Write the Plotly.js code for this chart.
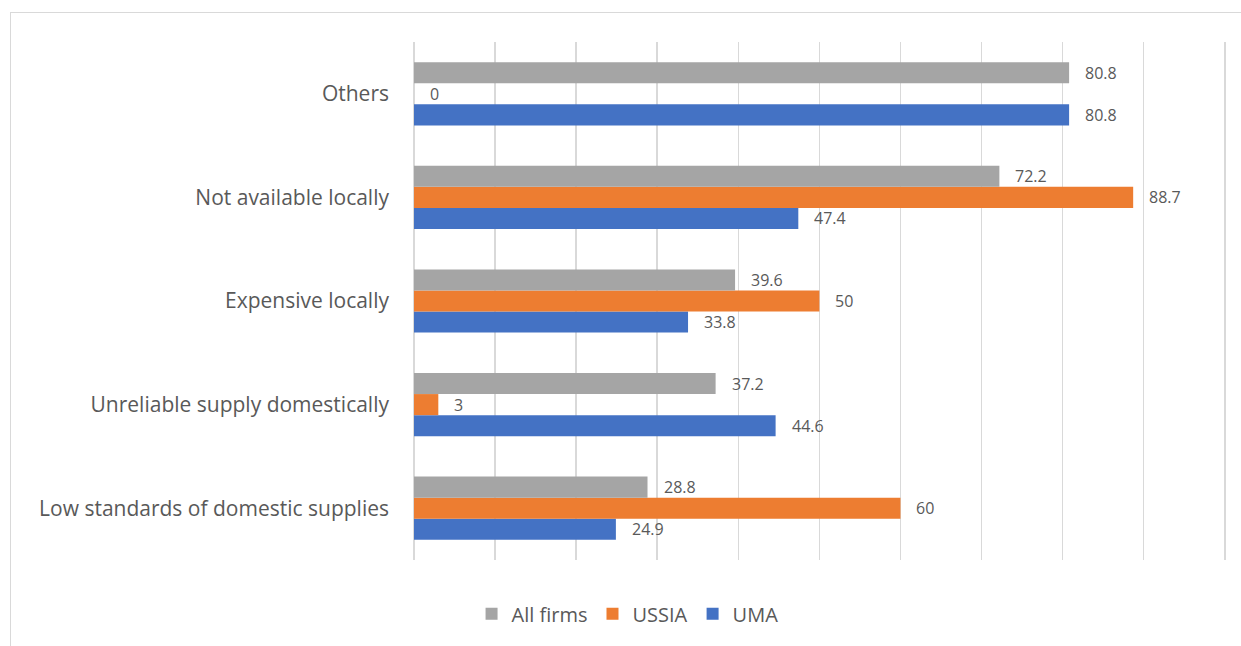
<!DOCTYPE html>
<html>
<head>
<meta charset="utf-8">
<script src="https://cdn.plot.ly/plotly-3.0.1.min.js"></script>
<style>
  html, body { margin: 0; padding: 0; background: #ffffff; }
  #wrap { position: relative; width: 1241px; height: 646px; overflow: hidden; }
  #chart { position: absolute; left: 0; top: 0; width: 1241px; height: 646px; }
  #frame { position: absolute; left: 10px; top: 12px; width: 1260px; height: 660px;
           border: 1px solid #d9d9d9; box-sizing: border-box; pointer-events: none; }
</style>
</head>
<body>
<div id="wrap">
  <div id="chart"></div>
  <div id="frame"></div>
</div>
<script>
// Reasons for sourcing inputs from abroad, share of firms (%)
const categories = [
  "Low standards of domestic supplies",
  "Unreliable supply domestically",
  "Expensive locally",
  "Not available locally",
  "Others"
];
const allFirms = [28.8, 37.2, 39.6, 72.2, 80.8];
const ussia    = [60, 3, 50, 88.7, 0];
const uma      = [24.9, 44.6, 33.8, 47.4, 80.8];

const seriesNames  = ["All firms", "USSIA", "UMA"];
const seriesColors = ["#A5A5A5", "#ED7D31", "#4472C4"];
const seriesValues = [allFirms, ussia, uma];

const font = "Open Sans, Noto Sans, sans-serif";
const textColor = "#595959";

// Plotly stacks grouped horizontal bars bottom-up, so add traces in reverse
const traces = [];
for (let i = seriesNames.length - 1; i >= 0; i--) {
  traces.push({
    type: "bar",
    orientation: "h",
    name: seriesNames[i],
    y: categories,
    x: seriesValues[i],
    marker: { color: seriesColors[i] },
    hoverinfo: "x+name"
  });
}

// Value labels placed just past each bar end, shifted to its slot in the group
const barPx = 21;
const annotations = [];
seriesValues.forEach((vals, i) => {
  const shift = (1 - i) * barPx;
  vals.forEach((v, j) => {
    annotations.push({
      x: v, y: categories[j], xref: "x", yref: "y",
      text: String(v), showarrow: false,
      xanchor: "left", yanchor: "middle",
      xshift: 14, yshift: shift,
      font: { family: font, size: 16, color: textColor }
    });
  });
});

const layout = {
  width: 1241, height: 646,
  margin: { l: 414, r: 15, t: 42, b: 86 },
  paper_bgcolor: "rgba(0,0,0,0)",
  plot_bgcolor: "#ffffff",
  barmode: "group",
  bargap: 0.39,
  bargroupgap: 0,
  showlegend: true,
  legend: {
    orientation: "h",
    traceorder: "reversed",
    x: 0.263, xanchor: "center",
    y: -0.104, yanchor: "middle",
    font: { family: font, size: 20, color: textColor },
    itemwidth: 30
  },
  xaxis: {
    range: [0, 100.15],
    dtick: 10,
    showticklabels: false,
    showgrid: true,
    gridcolor: "#d9d9d9",
    gridwidth: 1.5,
    zeroline: true,
    zerolinecolor: "#d9d9d9",
    zerolinewidth: 1.5,
    showline: false,
    fixedrange: true
  },
  yaxis: {
    type: "category",
    showgrid: false,
    zeroline: false,
    showline: false,
    ticks: "",
    ticklabelstandoff: 24,
    tickfont: { family: font, size: 21, color: textColor },
    fixedrange: true
  },
  annotations: annotations
};

Plotly.newPlot("chart", traces, layout, { displayModeBar: false, staticPlot: true });
</script>
</body>
</html>
